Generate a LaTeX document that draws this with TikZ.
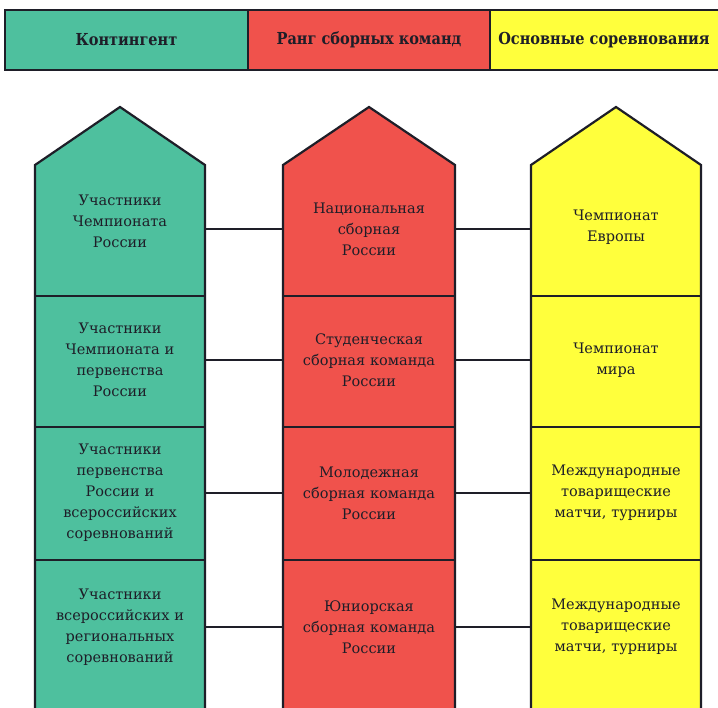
\documentclass[tikz,border=0pt]{standalone}
\usepackage{fontspec}
\setmainfont{DejaVu Serif}
\newfontfamily\hdfont[FakeStretch=0.88]{DejaVu Serif}
\definecolor{cgreen}{RGB}{78,192,158}
\definecolor{cred}{RGB}{240,82,76}
\definecolor{cyellow}{RGB}{255,255,60}
\definecolor{ink}{RGB}{30,30,40}
\tikzset{
  hdbox/.style={draw=ink, line width=2.2pt, minimum height=60pt, inner sep=0pt, font=\hdfont\bfseries\fontsize{16.5}{18}\selectfont, text=ink},
  colshape/.style={draw=ink, line width=2.2pt},
  cell/.style={minimum width=170pt, minimum height=133pt, inner sep=0pt, align=center, text width=160pt, font=\fontsize{14.5}{21}\selectfont, text=ink},
  divider/.style={draw=ink, line width=1.8pt},
  link/.style={draw=ink, line width=1.5pt}
}
\begin{document}
\begin{tikzpicture}[x=1pt,y=-1pt]
\useasboundingbox (0,0) rectangle (718,708);
\clip (0,0) rectangle (718,708);
\fill[white] (0,0) rectangle (718,708);
% header
\node[hdbox, fill=cgreen, minimum width=243pt] (h1) at (126.5,40) {Контингент};
\node[hdbox, fill=cred, minimum width=242pt] (h2) at (369,40) {Ранг сборных команд};
\node[hdbox, fill=cyellow, minimum width=232pt] (h3) at (606,40) {\hspace*{-4pt}Основные соревнования};
% columns
\path[colshape, fill=cgreen] (35,730) -- (35,165) -- (120,107) -- (205,165) -- (205,730) -- cycle;
\path[colshape, fill=cred] (283,730) -- (283,165) -- (369,107) -- (455,165) -- (455,730) -- cycle;
\path[colshape, fill=cyellow] (531,730) -- (531,165) -- (616,107) -- (701,165) -- (701,730) -- cycle;
% cells green
\node[cell] (g1) at (120,229) {Участники\\Чемпионата\\России\\[-6pt]\mbox{}};
\node[cell] (g2) at (120,360) {Участники\\Чемпионата и\\первенства\\России};
\node[cell] (g3) at (120,493) {Участники\\первенства\\России и\\всероссийских\\соревнований};
\node[cell] (g4) at (120,627) {Участники\\всероссийских и\\региональных\\соревнований};
% cells red
\node[cell, minimum width=172pt] (r1) at (369,229) {Национальная\\сборная\\России};
\node[cell, minimum width=172pt] (r2) at (369,360) {Студенческая\\сборная команда\\России};
\node[cell, minimum width=172pt] (r3) at (369,493) {Молодежная\\сборная команда\\России};
\node[cell, minimum width=172pt] (r4) at (369,627) {Юниорская\\сборная команда\\России};
% cells yellow
\node[cell] (y1) at (616,229) {Чемпионат\\Европы\\[-14pt]\mbox{}};
\node[cell] (y2) at (616,360) {Чемпионат\\мира};
\node[cell] (y3) at (616,493) {Международные\\товарищеские\\матчи, турниры};
\node[cell] (y4) at (616,627) {Международные\\товарищеские\\матчи, турниры};
% dividers
\foreach \c in {g,r,y}{
  \foreach \i in {1,2,3}{
    \draw[divider] (\c\i.south west) -- (\c\i.south east);
  }
}
% connectors
\foreach \i in {1,2,3,4}{
  \draw[link] (g\i.east) -- (r\i.west);
  \draw[link] (r\i.east) -- (y\i.west);
}
\end{tikzpicture}
\end{document}
